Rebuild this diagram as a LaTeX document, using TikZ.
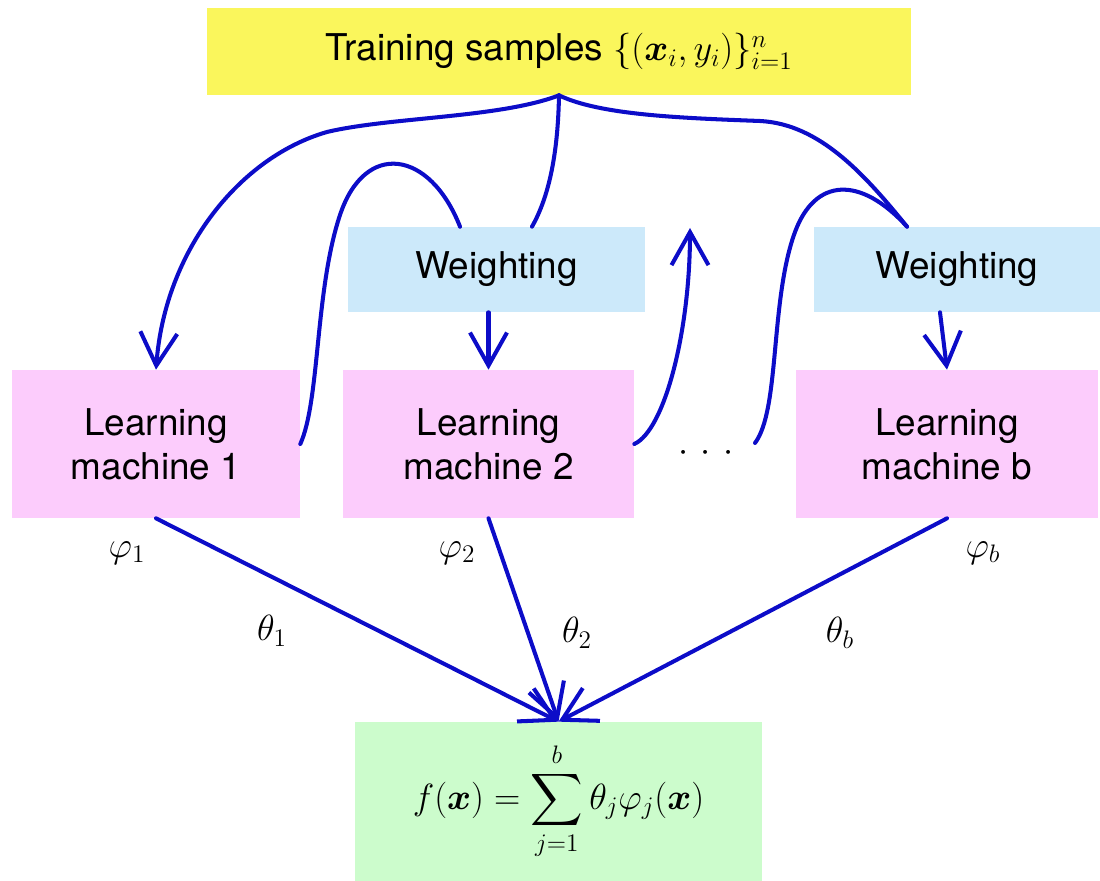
\documentclass[tikz,border=0pt]{standalone}
\usepackage[no-math]{fontspec}
\setmainfont{TeX Gyre Heros}
\usepackage{amsmath,bm}
\usetikzlibrary{arrows.meta,calc}
\definecolor{lineblue}{RGB}{12,12,200}
\definecolor{topyellow}{RGB}{250,246,92}
\definecolor{wblue}{RGB}{204,233,250}
\definecolor{lmpink}{RGB}{252,204,252}
\definecolor{outgreen}{RGB}{204,252,204}
\tikzset{
  box/.style={rectangle, inner sep=0pt, align=center, font=\fontsize{21}{25}\selectfont},
  lab/.style={inner sep=0pt, font=\fontsize{20.5}{24}\selectfont},
  conn/.style={draw=lineblue, line width=2.3pt, line cap=round},
  arr/.style={conn, -{Straight Barb[length=0.66cm,width=0.74cm,line width=2.3pt]}},
}
\begin{document}
\begin{tikzpicture}[x=0.02cm,y=-0.02cm]
\useasboundingbox (0,0) rectangle (1100,881);
% boxes
\node[box, fill=topyellow, minimum width=14.08cm, minimum height=1.74cm] (top) at (559,51.5) {Training samples $\{(\bm{x}_i,y_i)\}_{i=1}^{n}$};
\node[box, fill=wblue, minimum width=5.94cm, minimum height=1.7cm] (w1) at (496.5,269.5) {Weighting};
\node[box, fill=wblue, minimum width=5.72cm, minimum height=1.7cm] (w2) at (957,269.5) {Weighting};
\node[box, fill=lmpink, minimum width=5.76cm, minimum height=2.96cm] (lm1) at (156,444) {Learning\\machine 1};
\node[box, fill=lmpink, minimum width=5.82cm, minimum height=2.96cm] (lm2) at (488.5,444) {Learning\\machine 2};
\node[box, fill=lmpink, minimum width=6.04cm, minimum height=2.96cm] (lmb) at (947,444) {Learning\\machine b};
\node[box, fill=outgreen, minimum width=8.14cm, minimum height=3.18cm, font=\fontsize{21.5}{26}\selectfont] (out) at (558.5,801.5) {$\displaystyle f(\bm{x})=\sum_{j=1}^{b}\theta_j\varphi_j(\bm{x})$};
% dots and labels
\node[lab, font=\fontsize{20}{24}\selectfont] (dots) at (706,453) {$\cdot$\hspace{7pt}$\cdot$\hspace{7pt}$\cdot$};
\node[lab] (p1) at (127,553) {$\varphi_1$};
\node[lab] (p2) at (457,553) {$\varphi_2$};
\node[lab] (pb) at (983,553) {$\varphi_b$};
\node[lab] (t1) at (272,631) {$\theta_1$};
\node[lab] (t2) at (577,633) {$\theta_2$};
\node[lab] (tb) at (840,633) {$\theta_b$};
\coordinate (upend) at (690,228);
\coordinate (d0) at (755,443);
% top branches
\draw[arr] (top.south) .. controls (500,118) and (390,117) .. (327,132)
                       .. controls (240,157) and (165,250) .. (lm1.north);
\draw[conn] (top.south) .. controls (558,150) and (550,195) .. ($(w1.north)+(35.5,0)$);
\draw[conn] (top.south) .. controls (600,115) and (680,118) .. (760,121)
                        .. controls (820,124) and (865,175) .. ($(w2.north)+(-50,0)$);
% loops
\draw[conn] (lm1.east) .. controls (320,400) and (315,290) .. (340,215)
                       .. controls (365,140) and (430,150) .. ($(w1.north)+(-36.5,0)$);
\draw[arr] (lm2.east) .. controls (665,430) and (690,330) .. (upend);
\draw[conn] (d0) .. controls (780,410) and (770,300) .. (795,232)
                 .. controls (815,178) and (860,175) .. ($(w2.north)+(-50,0)$);
% weighting to machines
\draw[arr] (w1.south -| lm2.north) -- (lm2.north);
\draw[arr] ($(w2.south)+(-17,0)$) -- (lmb.north);
% outputs
\draw[arr] (lm1.south) -- (out.north);
\draw[arr] (lm2.south) -- (out.north);
\draw[arr] (lmb.south) -- (out.north);
\end{tikzpicture}
\end{document}
